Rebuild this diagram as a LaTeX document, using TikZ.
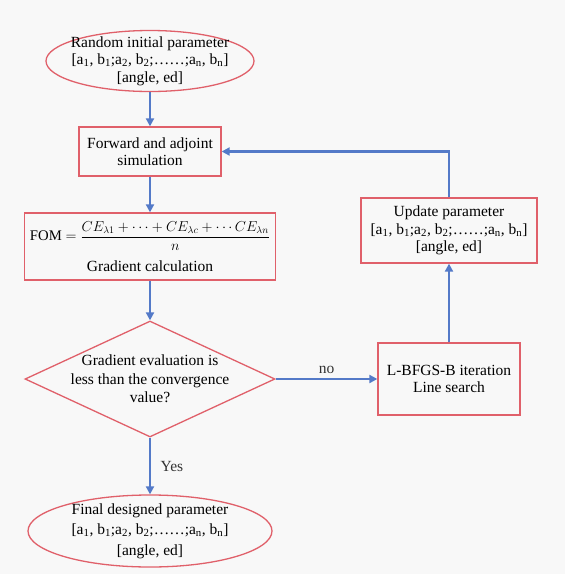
\documentclass[tikz,border=0pt]{standalone}
\usepackage{amsmath}
\usepackage{fontspec}
\setmainfont{Liberation Serif}
\usetikzlibrary{shapes.geometric,arrows.meta}
\definecolor{boxred}{RGB}{224,96,106}
\definecolor{flowblue}{RGB}{84,122,200}
\definecolor{bggray}{RGB}{248,248,248}
\newcommand{\parlist}{[a\textsubscript{1}, b\textsubscript{1};a\textsubscript{2}, b\textsubscript{2};\ldots\ldots;a\textsubscript{n}, b\textsubscript{n}]}
\begin{document}
\begin{tikzpicture}[x=1pt,y=-1pt,
  font=\fontsize{15.5}{17.5}\selectfont,
  box/.style={draw=boxred,line width=1.3pt,align=center,inner sep=0pt},
  oval/.style={ellipse,draw=boxred,line width=1.3pt,align=center,inner xsep=-12pt,inner ysep=-10pt},
  flow/.style={draw=flowblue,line width=2.6pt,-{Triangle[length=8pt,width=8pt]}}]

  % Background and page size
  \fill[bggray] (0,0) rectangle (565,574);

  % Main column
  \node[oval,minimum width=208pt,minimum height=61pt] (start) at (150,61)
    {Random initial parameter\\\parlist\\{}[angle, ed]};
  \node[box,minimum width=142pt,minimum height=49pt] (fwd) at (150,151.5)
    {Forward and adjoint\\simulation};
  \node[box,minimum width=251pt,minimum height=67pt,font=\fontsize{14.7}{17}\selectfont] (fom) at (150,246.5)
    {FOM $=\dfrac{CE_{\lambda1}+\cdots+CE_{\lambda c}+\cdots CE_{\lambda n}}{n}$\\[9pt]\fontsize{15.5}{17.5}\selectfont Gradient calculation};
  \node[diamond,aspect=2.15,draw=boxred,line width=1.3pt,align=center,inner sep=-15pt,
    minimum width=250pt,minimum height=116pt,font=\fontsize{15.5}{18.5}\selectfont] (check) at (150,379)
    {Gradient evaluation is\\less than the convergence\\value?};
  \node[oval,minimum width=244pt,minimum height=72pt,font=\fontsize{15.5}{20.5}\selectfont] (final) at (150,531)
    {Final designed parameter\\\parlist\\{}[angle, ed]};

  % Right column
  \node[box,minimum width=142pt,minimum height=72pt] (lbfgs) at (449,379)
    {L-BFGS-B iteration\\Line search};
  \node[box,minimum width=176pt,minimum height=65pt] (update) at (449,230.5)
    {Update parameter\\\parlist\\{}[angle, ed]};

  % Connectors
  \draw[flow] (start) -- (fwd);
  \draw[flow] (fwd) -- (fom);
  \draw[flow] (fom) -- (check);
  \draw[flow] (check) -- node[right=6pt,text=black!80]{Yes} (final);
  \draw[flow] (check) -- node[above=1pt,text=black!80]{no} (lbfgs);
  \draw[flow] (lbfgs) -- (update);
  \draw[flow] (update.north) |- (fwd.east);
\end{tikzpicture}
\end{document}
